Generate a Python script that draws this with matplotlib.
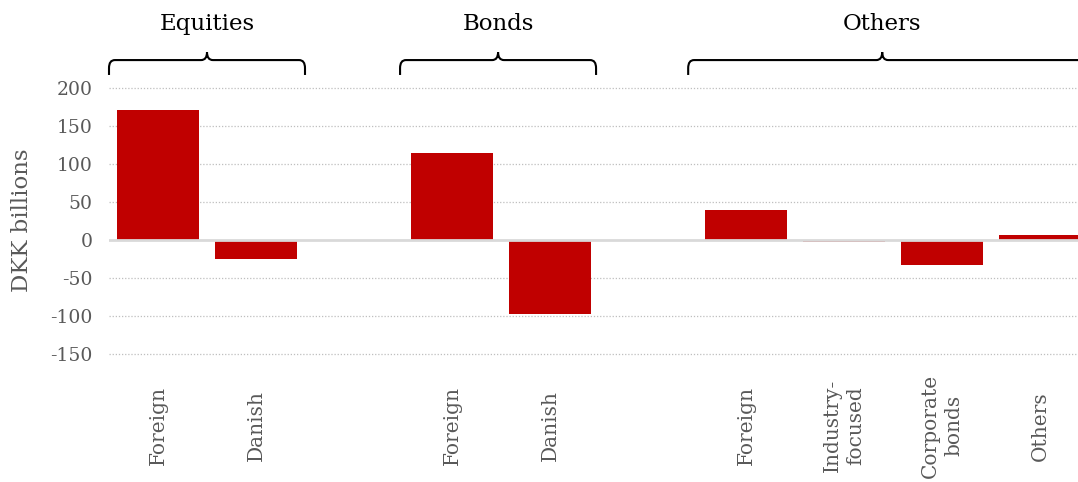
import matplotlib.pyplot as plt
import matplotlib.transforms as mtransforms
from matplotlib.path import Path
from matplotlib.patches import PathPatch
import numpy as np

# data
groups = ['Equities', 'Bonds', 'Others']
group_cats = [['Foreign', 'Danish'],
              ['Foreign', 'Danish'],
              ['Foreign', 'Industry-\nfocused', 'Corporate\nbonds', 'Others']]
group_vals = [[171, -25],
              [114, -97],
              [40, -3, -33, 6]]
yticks = [-150, -100, -50, 0, 50, 100, 150, 200]
# brace extents and tip in bar-slot units (hand drawn in the original)
brace_ranges = [(-0.5, 1.5), (2.47, 4.47), (5.41, 9.6)]
brace_tips = [0.5, 3.47, 7.39]

plt.rcParams['font.family'] = ['DejaVu Serif']
grey = '#595959'

fig = plt.figure(figsize=(10.78, 4.82), dpi=100)
ax = fig.add_axes([109/1078, (482-354)/482, 980/1078, 266/482])
tr = mtransforms.blended_transform_factory(ax.transData, ax.transAxes)

pos = 0
for cats, vals in zip(group_cats, group_vals):
    x = np.arange(pos, pos + len(cats))
    ax.bar(x, vals, width=0.84, color='#C00000', zorder=2)
    for xi, c in zip(x, cats):
        ax.text(xi, -0.27, c, rotation=90, ha='center', va='center', color=grey,
                fontsize=14.5, multialignment='center', linespacing=1.3, transform=tr)
    pos += len(cats) + 1

ax.set_xlim(-0.5, pos - 1.5)
ax.set_ylim(-150, 200)
ax.set_yticks(yticks)
ax.set_yticklabels([str(t) for t in yticks], color=grey, fontsize=13.5)
ax.set_xticks([])
ax.tick_params(axis='y', length=0, pad=12)
for s in ax.spines.values():
    s.set_visible(False)
for t in yticks:
    if t != 0:
        ax.axhline(t, color='#bfbfbf', lw=0.9, ls=(0, (1, 1.5)), zorder=1, clip_on=False)
ax.axhline(0, color='#d9d9d9', lw=2, zorder=3)

fig.text(22/1078, 1 - 220/482, 'DKK billions', rotation=90, ha='center', va='center',
         color=grey, fontsize=16.5)

# curly braces and group titles above the plot
y_end, y_line, y_tip = 1.049, 1.105, 1.135
rx, ry = 0.06, 0.03
for name, (x0, x1), xm in zip(groups, brace_ranges, brace_tips):
    verts = [(x0, y_end), (x0, y_line - ry), (x0, y_line), (x0 + rx, y_line),
             (xm - rx, y_line), (xm, y_line), (xm, y_tip),
             (xm, y_line), (xm + rx, y_line),
             (x1 - rx, y_line), (x1, y_line), (x1, y_line - ry), (x1, y_end)]
    codes = [Path.MOVETO, Path.LINETO, Path.CURVE3, Path.CURVE3,
             Path.LINETO, Path.CURVE3, Path.CURVE3,
             Path.CURVE3, Path.CURVE3,
             Path.LINETO, Path.CURVE3, Path.CURVE3, Path.LINETO]
    ax.add_patch(PathPatch(Path(verts, codes), fill=False, lw=1.5, ec='black',
                           transform=tr, clip_on=False))
    ax.text(xm, 1.24, name, ha='center', va='center', fontsize=16.5, color='black',
            transform=tr)

fig.savefig('out.png', dpi=100)
